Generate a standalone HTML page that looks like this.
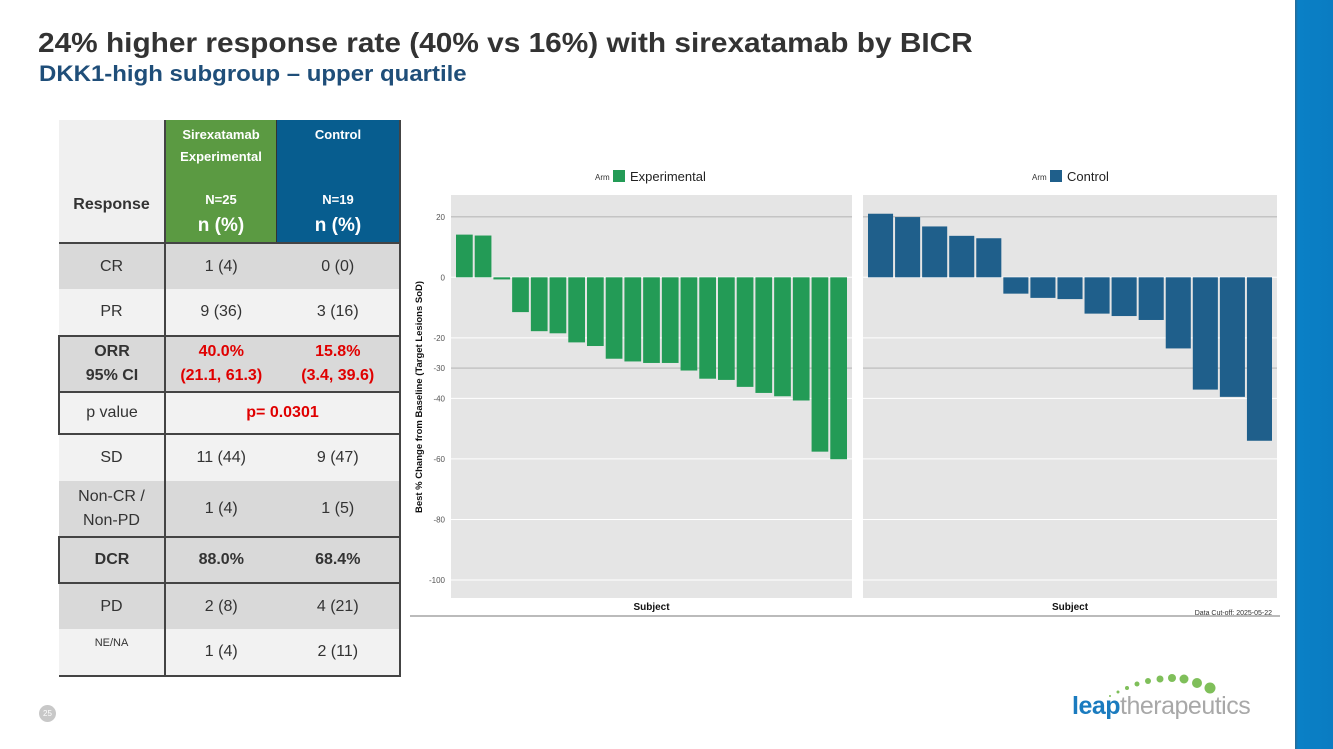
<!DOCTYPE html>
<html><head><meta charset="utf-8">
<style>
body{margin:0;width:1333px;height:749px;position:relative;overflow:hidden;background:#fff;font-family:"Liberation Sans",sans-serif}
.t{position:absolute;font-family:"Liberation Sans",sans-serif;transform-origin:0 0;white-space:nowrap}
table{position:absolute;left:58px;top:120px;border-collapse:collapse;font-family:"Liberation Sans",sans-serif;color:#333}
td{text-align:center;padding:0;font-size:16px}
td.c1{width:104px;border-right:2px solid #444}
td.c2{width:110px}
td.c3{width:122px;border-right:2px solid #444}
.g{background:#d9d9d9}.l{background:#f2f2f2}
.red{color:#e00000;font-weight:bold}
.box td{border-top:2px solid #444;border-bottom:2px solid #444}
.box td.c1{border-left:2px solid #444}
</style></head><body>
<div class="t" style="left:38px;top:27px;font-size:28px;font-weight:bold;color:#333;transform:scaleX(1.065)">24% higher response rate (40% vs 16%) with sirexatamab by BICR</div>
<div class="t" style="left:39px;top:61px;font-size:22px;font-weight:bold;color:#1f4e79;transform:scaleX(1.09)">DKK1-high subgroup – upper quartile</div>

<table>
<tr style="height:123px">
<td class="c1" style="background:#f0f0f0;font-weight:bold;font-size:16px;vertical-align:bottom;padding-bottom:28px;border-bottom:2px solid #444">Response</td>
<td class="c2" style="background:#5b9a42;color:#fff;font-weight:bold;font-size:13px;vertical-align:top;border-bottom:2px solid #444;border-right:1px solid #333"><div style="margin-top:4px;line-height:22px">Sirexatamab<br>Experimental</div><div style="margin-top:24px">N=25</div><div style="font-size:19px;margin-top:8px">n (%)</div></td>
<td class="c3" style="background:#075d8f;color:#fff;font-weight:bold;font-size:13px;vertical-align:top;border-bottom:2px solid #444"><div style="margin-top:4px;line-height:22px">Control<br>&nbsp;</div><div style="margin-top:24px">N=19</div><div style="font-size:19px;margin-top:8px">n (%)</div></td>
</tr>
<tr class="g" style="height:46px"><td class="c1">CR</td><td class="c2">1 (4)</td><td class="c3">0 (0)</td></tr>
<tr class="l" style="height:47px"><td class="c1">PR</td><td class="c2">9 (36)</td><td class="c3">3 (16)</td></tr>
<tr class="g box" style="height:56px"><td class="c1" style="font-weight:bold;line-height:24px">ORR<br>95% CI</td><td class="c2 red" style="line-height:24px">40.0%<br>(21.1, 61.3)</td><td class="c3 red" style="line-height:24px">15.8%<br>(3.4, 39.6)</td></tr>
<tr class="l box" style="height:42px"><td class="c1">p value</td><td colspan="2" class="red" style="border-right:2px solid #444">p= 0.0301</td></tr>
<tr class="l" style="height:47px"><td class="c1">SD</td><td class="c2">11 (44)</td><td class="c3">9 (47)</td></tr>
<tr class="g" style="height:56px"><td class="c1" style="line-height:24px">Non-CR /<br>Non-PD</td><td class="c2">1 (4)</td><td class="c3">1 (5)</td></tr>
<tr class="g box" style="height:46px"><td class="c1" style="font-weight:bold">DCR</td><td class="c2" style="font-weight:bold">88.0%</td><td class="c3" style="font-weight:bold">68.4%</td></tr>
<tr class="g" style="height:46px"><td class="c1">PD</td><td class="c2">2 (8)</td><td class="c3">4 (21)</td></tr>
<tr class="l" style="height:47px;border-bottom:2px solid #444"><td class="c1" style="font-size:11px;vertical-align:top;padding-top:8px">NE/NA</td><td class="c2">1 (4)</td><td class="c3">2 (11)</td></tr>
</table>

<svg id="chart" style="position:absolute;left:0;top:0" width="1333" height="749"></svg>

<div style="position:absolute;left:1295px;top:0;width:38px;height:749px;background:linear-gradient(90deg,#2a6a94 0,#0a80c6 3px,#0a7cc2 100%)"></div>

<div style="position:absolute;left:39px;top:705px;width:17px;height:17px;border-radius:50%;background:#c8c8c8;color:#fff;font-size:8px;text-align:center;line-height:17px">25</div>

<div style="position:absolute;left:1070px;top:668px;width:190px;height:56px">
<svg width="190" height="30" style="position:absolute;left:0;top:0">
<circle cx="40" cy="28" r="1" fill="#7fbf5a"/><circle cx="48" cy="24" r="1.5" fill="#7fbf5a"/><circle cx="57" cy="20" r="2" fill="#7fbf5a"/>
<circle cx="67" cy="16" r="2.5" fill="#7fbf5a"/><circle cx="78" cy="13" r="3" fill="#7fbf5a"/><circle cx="90" cy="11" r="3.5" fill="#7fbf5a"/>
<circle cx="102" cy="10" r="4" fill="#7fbf5a"/><circle cx="114" cy="11" r="4.5" fill="#7fbf5a"/><circle cx="127" cy="15" r="5" fill="#7fbf5a"/><circle cx="140" cy="20" r="5.5" fill="#7fbf5a"/>
</svg>
<div style="position:absolute;left:2px;top:24px;font-size:25px;letter-spacing:-0.5px;white-space:nowrap"><span style="color:#1a7bbf;font-weight:bold">leap</span><span style="color:#a8a8a8">therapeutics</span></div>
</div>

<script>
const expValues=[14.1,13.8,-0.7,-11.5,-17.8,-18.5,-21.5,-22.7,-26.9,-27.8,-28.3,-28.3,-30.8,-33.5,-33.9,-36.2,-38.2,-39.3,-40.7,-57.6,-60.1];
const ctlValues=[21.0,19.9,16.8,13.7,12.9,-5.4,-6.8,-7.2,-12.0,-12.8,-14.1,-23.5,-37.1,-39.5,-54.0];
const yTicks=[20,0,-20,-30,-40,-60,-80,-100];
const armLabels=["Experimental","Control"];

const NS="http://www.w3.org/2000/svg";
const svg=document.getElementById('chart');
function mk(tag,attrs,parent){const e=document.createElementNS(NS,tag);for(const k in attrs)e.setAttribute(k,attrs[k]);(parent||svg).appendChild(e);return e;}
const y0=277.3,pxPer=3.027;
function yS(v){return y0-v*pxPer;}
const panels=[{x0:451,x1:852,vals:expValues,color:"#239b56",label:armLabels[0],lx:613},{x0:863,x1:1277,vals:ctlValues,color:"#1f5f8b",label:armLabels[1],lx:1050}];
const plotTop=195,plotBot=598;
let fl=mk('line',{x1:410,x2:1280,y1:616,y2:616,stroke:'#777','stroke-width':1});


panels.forEach((p,pi)=>{
  let bg=mk('rect',{x:p.x0,y:plotTop,width:p.x1-p.x0,height:plotBot-plotTop,fill:'#e5e5e5'});
  
  
  yTicks.forEach(t=>{
    const ref=(t===20||t===-30);
    let gl=mk('line',{x1:p.x0,x2:p.x1,y1:yS(t),y2:yS(t),stroke:ref?'#c4c4c4':'#fff','stroke-width':ref?1.5:1});
    
    
    if(pi===0){
      let tx=mk('text',{x:p.x0-6,y:yS(t)+3,'text-anchor':'end','font-size':8,fill:'#555','font-family':'Liberation Sans'});
      tx.textContent=t;
      
      
    }
  });
  const n=p.vals.length,slot=(p.x1-p.x0-8)/n;
  p.vals.forEach((v,i)=>{
    const x=p.x0+4+i*slot+1;
    const ya=yS(Math.max(v,0)),yb=yS(Math.min(v,0));
    let b=mk('rect',{x:x,y:ya,width:slot-2,height:Math.max(yb-ya,1),fill:p.color});
    
    
  });
  let arm=mk('text',{x:p.lx-18,y:180,'font-size':8,fill:'#333','font-family':'Liberation Sans'});arm.textContent='Arm';
  
  
  let sw=mk('rect',{x:p.lx,y:170,width:12,height:12,fill:p.color});
  
  
  let lt=mk('text',{x:p.lx+17,y:181,'font-size':13,fill:'#222','font-family':'Liberation Sans'});lt.textContent=p.label;
  
  
  let xt=mk('text',{x:(p.x0+p.x1)/2,y:610,'text-anchor':'middle','font-size':10,'font-weight':'bold',fill:'#111','font-family':'Liberation Sans'});xt.textContent='Subject';
  
  
});
let yt=mk('text',{x:0,y:0,transform:'translate(422,397) rotate(-90)','text-anchor':'middle','font-size':9.5,'font-weight':'bold',fill:'#111','font-family':'Liberation Sans'});
yt.textContent='Best % Change from Baseline (Target Lesions SoD)';


let dc=mk('text',{x:1272,y:615,'text-anchor':'end','font-size':7,fill:'#333','font-family':'Liberation Sans'});
dc.textContent='Data Cut-off: 2025-05-22';


</script>
</body></html>
